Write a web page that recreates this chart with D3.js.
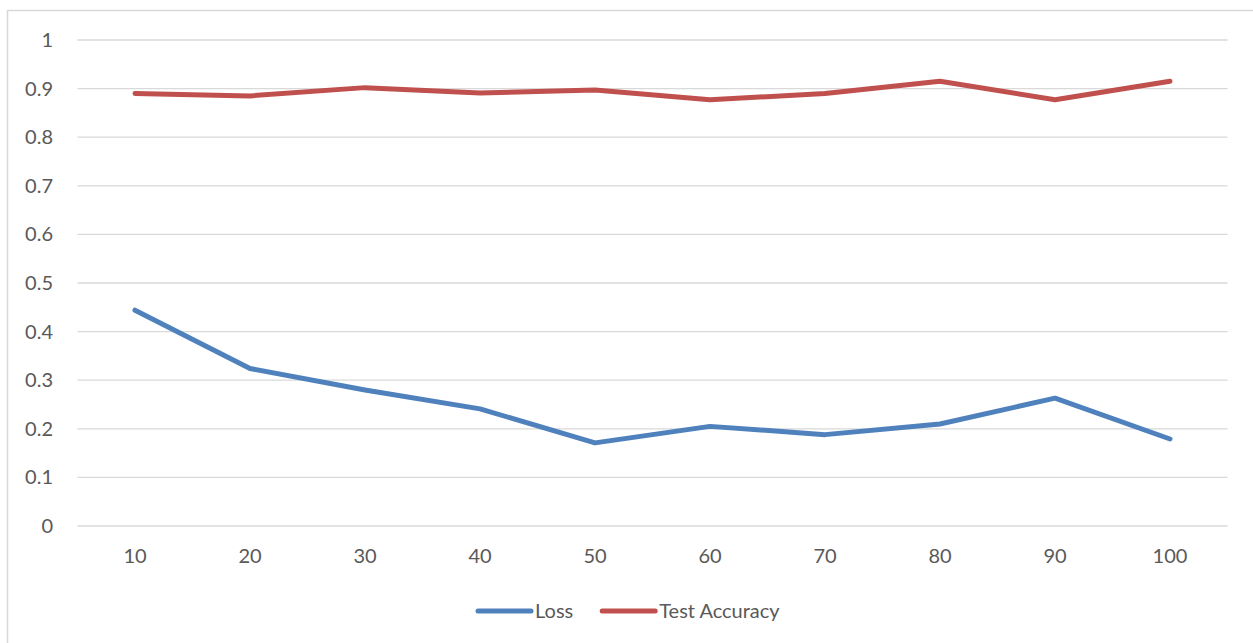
<!DOCTYPE html>
<html>
<head>
<meta charset="utf-8">
<script src="https://cdn.jsdelivr.net/npm/d3@7"></script>
<style>
  html, body { margin: 0; padding: 0; background: #fff; }
  svg { display: block; }
  text { font-family: Lato, "Open Sans", sans-serif; fill: #595959; }
</style>
</head>
<body>
<svg id="chart" width="1253" height="643"></svg>
<script>
// Epochs on the x axis and the two measured series
const categories = [10, 20, 30, 40, 50, 60, 70, 80, 90, 100];
const lossValues = [0.444, 0.324, 0.280, 0.241, 0.171, 0.205, 0.188, 0.210, 0.263, 0.179];
const accuracyValues = [0.890, 0.885, 0.902, 0.891, 0.897, 0.877, 0.890, 0.915, 0.877, 0.915];
const yTicks = [0, 0.1, 0.2, 0.3, 0.4, 0.5, 0.6, 0.7, 0.8, 0.9, 1];
const seriesNames = ["Loss", "Test Accuracy"];
const seriesColors = ["#4f81bd", "#c0504d"];

const svg = d3.select("#chart");
const W = 1253, H = 643;
const plot = { left: 77.5, right: 1227.5, top: 40, bottom: 526 };
const fontSize = 20;

// Outer chart frame
svg.append("rect")
  .attr("x", 7.5).attr("y", 10.5)
  .attr("width", W + 10).attr("height", H + 10)
  .attr("fill", "none").attr("stroke", "#d9d9d9").attr("stroke-width", 1.5);

const x = d3.scaleBand().domain(categories).range([plot.left, plot.right]);
const y = d3.scaleLinear().domain([0, 1]).range([plot.bottom, plot.top]);

// Horizontal gridlines
svg.append("g").selectAll("line").data(yTicks).join("line")
  .attr("x1", plot.left).attr("x2", plot.right)
  .attr("y1", d => y(d)).attr("y2", d => y(d))
  .attr("stroke", "#d9d9d9").attr("stroke-width", 1.3);

// Y axis labels
const yAxis = d3.axisLeft(y).tickValues(yTicks).tickSize(0).tickPadding(0)
  .tickFormat(d => d3.format("")(+d.toFixed(1)));
svg.append("g").attr("transform", `translate(53,0)`).call(yAxis)
  .call(g => g.select(".domain").remove())
  .selectAll("text").attr("font-size", fontSize).attr("fill", "#595959")
  .attr("font-family", "Lato, 'Open Sans', sans-serif");

// X axis labels
const xAxis = d3.axisBottom(x).tickSize(0).tickPadding(0);
svg.append("g").attr("transform", `translate(0,${plot.bottom + 23})`).call(xAxis)
  .call(g => g.select(".domain").remove())
  .selectAll("text").attr("font-size", fontSize).attr("fill", "#595959")
  .attr("font-family", "Lato, 'Open Sans', sans-serif");

// Series lines
const line = d3.line()
  .x((d, i) => x(categories[i]) + x.bandwidth() / 2)
  .y(d => y(d));

[lossValues, accuracyValues].forEach((vals, k) => {
  svg.append("path")
    .datum(vals)
    .attr("d", line)
    .attr("fill", "none")
    .attr("stroke", seriesColors[k])
    .attr("stroke-width", 5)
    .attr("stroke-linecap", "round")
    .attr("stroke-linejoin", "round");
});

// Legend
const legend = svg.append("g").attr("transform", "translate(476,611)");
let lx = 0;
seriesNames.forEach((name, k) => {
  const g = legend.append("g").attr("transform", `translate(${lx},0)`);
  g.append("line").attr("x1", 2).attr("x2", 55).attr("y1", 0).attr("y2", 0)
    .attr("stroke", seriesColors[k]).attr("stroke-width", 5)
    .attr("stroke-linecap", "round");
  const t = g.append("text").attr("x", 59).attr("y", 0).attr("dy", "0.35em")
    .attr("font-size", fontSize).text(name);
  lx += 59 + t.node().getComputedTextLength() + 27;
});
</script>
</body>
</html>
